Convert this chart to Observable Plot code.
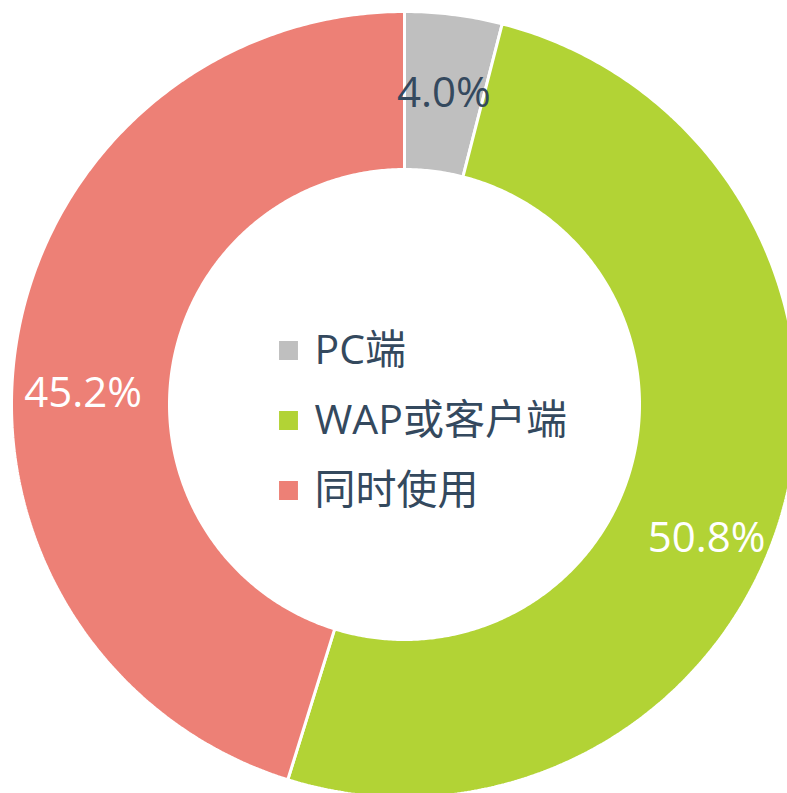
<!DOCTYPE html>
<html>
<head>
<meta charset="utf-8">
<script src="https://cdn.jsdelivr.net/npm/d3@7"></script>
<script src="https://cdn.jsdelivr.net/npm/@observablehq/plot@0.6"></script>
<style>
  html, body { margin: 0; padding: 0; background: #ffffff; }
  #chart { width: 787px; height: 793px; overflow: hidden; }
</style>
</head>
<body>
<div id="chart"></div>
<script>
// ---- data ----
const categories = ["PC端", "WAP或客户端", "同时使用"];
const shares = [4.0, 50.8, 45.2];
const labels = ["4.0%", "50.8%", "45.2%"];

// ---- styling / layout (not data) ----
const colors = ["#bfbfbf", "#b2d335", "#ed8076"];
const labelColors = ["#34495e", "#ffffff", "#ffffff"];
const labelNudge = [[0, 1], [0, 48], [-11, 36]];
const W = 787, H = 793;
const cx = 404, cy = 404;
const R = 393, r = 235;
const font = "'Open Sans', 'Noto Sans CJK SC', sans-serif";

const arcs = d3.pie().sort(null).value(d => d)(shares);

// polygon vertices of each ring slice
const pts = [];
arcs.forEach((a, i) => {
  const n = Math.max(4, Math.ceil((a.endAngle - a.startAngle) / (Math.PI / 360)));
  const ring = [];
  for (let k = 0; k <= n; k++) {
    const t = a.startAngle + (a.endAngle - a.startAngle) * k / n;
    ring.push([R * Math.sin(t), -R * Math.cos(t)]);
  }
  for (let k = n; k >= 0; k--) {
    const t = a.startAngle + (a.endAngle - a.startAngle) * k / n;
    ring.push([r * Math.sin(t), -r * Math.cos(t)]);
  }
  ring.push(ring[0]);
  ring.forEach(([x, y]) => pts.push({cat: categories[i], x, y}));
});

const labelData = arcs.map((a, i) => {
  const m = (a.startAngle + a.endAngle) / 2;
  const rho = (R + r) / 2;
  return {label: labels[i], x: rho * Math.sin(m), y: -rho * Math.cos(m),
          dx: labelNudge[i][0], dy: labelNudge[i][1], color: labelColors[i]};
});

const legendData = categories.map((c, i) => ({cat: c, row: i}));
const rowGap = 70, rowOffset = -54;

const chart = Plot.plot({
  width: W, height: H,
  margin: 0,
  style: {background: "transparent", fontFamily: font},
  x: {domain: [-cx, W - cx], range: [0, W], axis: null},
  y: {domain: [-cy, H - cy], range: [0, H], axis: null},
  color: {domain: categories, range: colors},
  marks: [
    Plot.line(pts, {x: "x", y: "y", z: "cat", fill: "cat", stroke: "#ffffff", strokeWidth: 3, curve: "linear", strokeLinejoin: "miter"}),
    Plot.text(labelData, {x: "x", y: "y", text: "label", fill: d => d.color, fontSize: 42}),
    Plot.dot(legendData, {x: () => -116, y: d => rowOffset + d.row * rowGap, fill: "cat", symbol: "square", r: 11.8, stroke: "#ffffff", strokeWidth: 2}),
    Plot.text(legendData, {x: () => -90, y: d => rowOffset + d.row * rowGap, text: "cat", textAnchor: "start", fill: "#34495e", fontSize: 41})
  ]
});

document.getElementById("chart").appendChild(chart);
// apply per-label nudges to the percentage labels
const textGroups = chart.querySelectorAll("g[aria-label='text']");
if (textGroups.length) {
  textGroups[0].querySelectorAll("text").forEach((t, i) => {
    const d = labelData[i];
    const tr = t.getAttribute("transform") || "";
    t.setAttribute("transform", tr + ` translate(${d.dx},${d.dy})`);
  });
}
</script>
</body>
</html>
